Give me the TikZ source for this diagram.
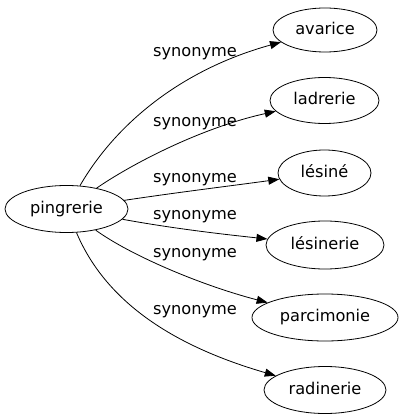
\documentclass[tikz,border=0pt]{standalone}
\usepackage{fontspec}
\setmainfont{DejaVu Sans}
\usetikzlibrary{shapes.geometric,arrows.meta}
\begin{document}
\begin{tikzpicture}[x=1pt,y=-1pt,
  every node/.style={font=\fontsize{16.2}{19}\selectfont},
  term/.style={draw, ellipse, line width=0.8pt, inner sep=0pt, text height=12pt, text depth=3.5pt},
  lbl/.style={anchor=base, inner sep=0pt},
  edge/.style={line width=0.8pt, -{Triangle[length=11pt,width=8pt]}}]
\useasboundingbox (0,0) rectangle (403,419);
\node[term, minimum width=123pt, minimum height=47pt] (p) at (66.5,209) {pingrerie};
\node[term, minimum width=104pt, minimum height=44pt] (a) at (325,30) {avarice};
\node[term, minimum width=109pt, minimum height=46pt] (b) at (324.5,100.5) {ladrerie};
\node[term, minimum width=93pt, minimum height=46pt] (c) at (324.5,173) {lésiné};
\node[term, minimum width=118pt, minimum height=48pt] (d) at (325,245) {lésinerie};
\node[term, minimum width=146pt, minimum height=47pt] (e) at (325,317.5) {parcimonie};
\node[term, minimum width=122pt, minimum height=47pt] (f) at (325,390) {radinerie};
\draw[edge] (p) .. controls (115,125) and (180,70) .. (a);
\draw[edge] (p) .. controls (130,165) and (200,128) .. (b);
\draw[edge] (p) .. controls (180,192) and (230,186) .. (c);
\draw[edge] (p) .. controls (170,228) and (220,234) .. (d);
\draw[edge] (p) .. controls (130,255) and (200,285) .. (e);
\draw[edge] (p) .. controls (105,300) and (170,345) .. (f);
\node[lbl] (l1) at (195,57) {synonyme};
\node[lbl] (l2) at (195,127) {synonyme};
\node[lbl] (l3) at (195,182.5) {synonyme};
\node[lbl] (l4) at (195,219) {synonyme};
\node[lbl] (l5) at (195,257) {synonyme};
\node[lbl] (l6) at (195,314) {synonyme};
\end{tikzpicture}
\end{document}
